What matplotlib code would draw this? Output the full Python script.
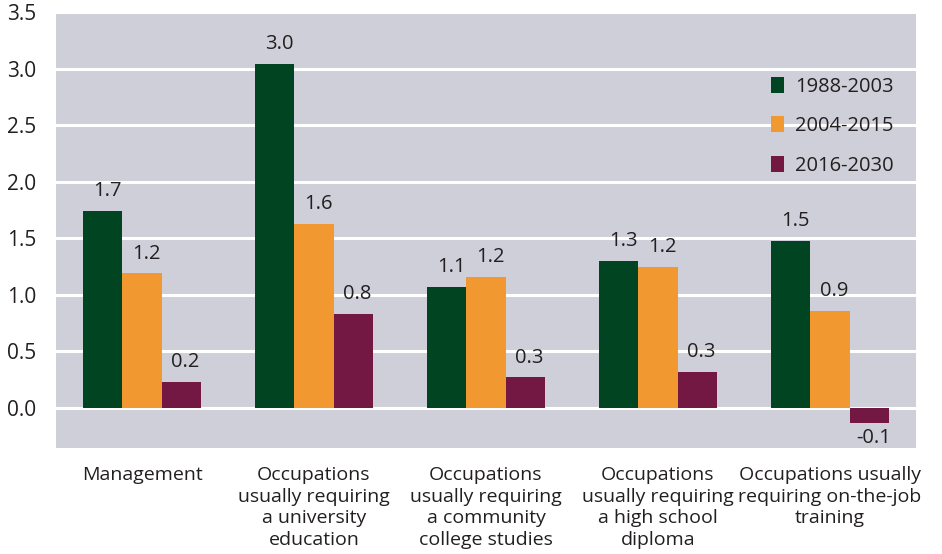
import matplotlib
matplotlib.use("Agg")
import matplotlib.pyplot as plt
from matplotlib.patches import Patch
import numpy as np

categories = [
    "Management",
    "Occupations\nusually requiring\na university\neducation",
    "Occupations\nusually requiring\na community\ncollege studies",
    "Occupations\nusually requiring\na high school\ndiploma",
    "Occupations usually\nrequiring on-the-job\ntraining",
]
series_names = ["1988-2003", "2004-2015", "2016-2030"]
values_1988_2003 = [1.74, 3.04, 1.07, 1.30, 1.48]
values_2004_2015 = [1.19, 1.63, 1.16, 1.25, 0.86]
values_2016_2030 = [0.23, 0.83, 0.27, 0.32, -0.13]
y_ticks = [0.0, 0.5, 1.0, 1.5, 2.0, 2.5, 3.0, 3.5]

colors = ["#014422", "#F19830", "#731843"]
bg = "#CFCFD9"
text_color = "#231F20"

plt.rcParams["font.family"] = ["Open Sans", "DejaVu Sans"]

fig = plt.figure(figsize=(9.42, 5.54), dpi=100)
ax = fig.add_axes([56 / 942, (554 - 448) / 554, (916 - 56) / 942, (448 - 11) / 554])
ax.set_facecolor(bg)

x = np.arange(len(categories))
width = 0.227
series = [values_1988_2003, values_2004_2015, values_2016_2030]
for i, (vals, col) in enumerate(zip(series, colors)):
    pos = x + (i - 1) * width
    bars = ax.bar(pos, vals, width=width, color=col, zorder=3, linewidth=0)
    for b, v in zip(bars, vals):
        cx = b.get_x() + b.get_width() / 2
        if v >= 0:
            ax.annotate(f"{v:.1f}", (cx, v), xytext=(3, 7), textcoords="offset points",
                        ha="center", va="bottom", fontsize=14.5, color=text_color)
        else:
            ax.annotate(f"{v:.1f}", (cx, v), xytext=(3, -4), textcoords="offset points",
                        ha="center", va="top", fontsize=14.5, color=text_color)

ax.set_xlim(-0.5, len(categories) - 0.5)
ax.set_ylim(-0.354, 3.51)
ax.set_yticks(y_ticks)
ax.set_yticklabels([f"{t:.1f}" for t in y_ticks])
ax.yaxis.grid(True, color="white", linewidth=2.2, zorder=1)
ax.set_axisbelow(True)
for s in ax.spines.values():
    s.set_visible(False)
ax.tick_params(axis="y", length=0, pad=14, labelsize=15, labelcolor=text_color)
ax.tick_params(axis="x", length=0, pad=13)
ax.set_xticks(x)
ax.set_xticklabels(categories, fontsize=14, color=text_color, linespacing=1.26)

handles = [Patch(facecolor=c, edgecolor="none") for c in colors]
ax.legend(handles, series_names, loc="upper left", bbox_to_anchor=(0.831, 0.85),
          frameon=False, fontsize=14.5, handlelength=0.68, handleheight=0.85,
          handletextpad=0.55, labelspacing=0.98, labelcolor=text_color,
          borderaxespad=0, borderpad=0)

fig.savefig("out.png", dpi=100, facecolor="white")
